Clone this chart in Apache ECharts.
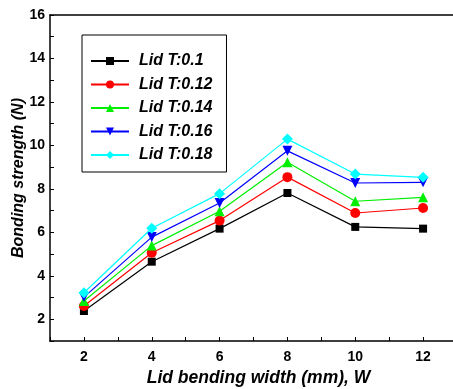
<!DOCTYPE html>
<html>
<head>
<meta charset="utf-8">
<script src="https://cdn.jsdelivr.net/npm/echarts@6/dist/echarts.min.js"></script>
<style>
  html, body { margin: 0; padding: 0; background: #fff; }
  #main { width: 453px; height: 389px; }
</style>
</head>
<body>
<div id="main"></div>
<script>
const widths = [2, 4, 6, 8, 10, 12];
const names = ['Lid T:0.1', 'Lid T:0.12', 'Lid T:0.14', 'Lid T:0.16', 'Lid T:0.18'];
const t01 = [2.38, 4.65, 6.17, 7.81, 6.25, 6.17];
const t012 = [2.61, 5.06, 6.54, 8.54, 6.89, 7.12];
const t014 = [2.84, 5.39, 6.97, 9.22, 7.43, 7.61];
const t016 = [3.02, 5.78, 7.35, 9.75, 8.27, 8.30];
const t018 = [3.22, 6.19, 7.78, 10.29, 8.68, 8.53];
const colors = ['#000000', '#ff0000', '#00ee00', '#0000ff', '#00ffff'];
const symbols = ['rect', 'circle', 'triangle', 'path://M0,0L10,0L5,9Z', 'diamond'];
const sizes = [8, 10, 10, 10, 11];

const allValues = [t01, t012, t014, t016, t018];
const font = 'Liberation Sans, Arial, sans-serif';

const chart = echarts.init(document.getElementById('main'));

const series = allValues.map((vals, i) => ({
  name: names[i],
  type: 'line',
  data: widths.map((w, j) => [w, vals[j]]),
  symbol: symbols[i],
  symbolSize: sizes[i],
  itemStyle: { color: colors[i] },
  lineStyle: { color: colors[i], width: 1.2 },
  z: 2 + i,
  animation: false
}));

const evenOnly = v => (v % 2 === 0 ? String(v) : '');

chart.setOption({
  backgroundColor: '#fff',
  animation: false,
  grid: { left: 50, top: 15, right: -4, bottom: 48, containLabel: false, outerBoundsMode: 'none' },
  legend: {
    left: 82,
    top: 35,
    orient: 'vertical',
    borderColor: '#000',
    borderWidth: 1,
    padding: [18, 14, 9, 8],
    itemWidth: 38,
    itemHeight: 10,
    itemGap: 7.5,
    textStyle: { fontFamily: font, fontSize: 16, fontWeight: 'bold', fontStyle: 'italic', color: '#000', padding: [0, 0, 0, 5] },
    data: names
  },
  xAxis: [{
    type: 'value',
    min: 1,
    max: 13,
    interval: 1,
    name: 'Lid bending width (mm), W',
    nameLocation: 'middle',
    nameGap: 27,
    nameTextStyle: { fontFamily: font, fontSize: 17.5, fontWeight: 'bold', fontStyle: 'italic', color: '#000', padding: [0, 0, 0, 10] },
    axisLine: { lineStyle: { color: '#000', width: 1.5 } },
    axisTick: { inside: true, length: 4, lineStyle: { color: '#000' } },
    axisLabel: { formatter: evenOnly, margin: 9, fontFamily: font, fontSize: 14, fontWeight: 'bold', color: '#000' },
    splitLine: { show: false }
  }, {
    type: 'value',
    position: 'top',
    min: 1,
    max: 13,
    axisLine: { show: true, lineStyle: { color: '#000', width: 1.5 } },
    axisTick: { show: false },
    axisLabel: { show: false },
    splitLine: { show: false }
  }],
  yAxis: {
    type: 'value',
    min: 1,
    max: 16,
    interval: 1,
    name: 'Bonding strength (N)',
    nameLocation: 'middle',
    nameGap: 23,
    nameMoveOverlap: false,
    nameTextStyle: { fontFamily: font, fontSize: 16, fontWeight: 'bold', fontStyle: 'italic', color: '#000' },
    axisLine: { show: true, lineStyle: { color: '#000', width: 1.5 } },
    axisTick: { inside: true, length: 4, lineStyle: { color: '#000' } },
    axisLabel: { formatter: evenOnly, margin: 5, fontFamily: font, fontSize: 14, fontWeight: 'bold', color: '#000' },
    splitLine: { show: false }
  },
  series: series
});
</script>
</body>
</html>
